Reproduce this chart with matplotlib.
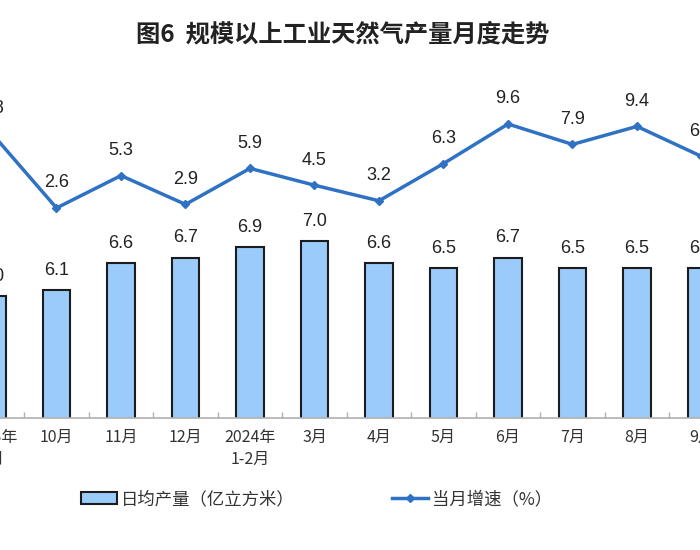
import matplotlib
matplotlib.use("Agg")
import matplotlib.pyplot as plt
from matplotlib.patches import Patch
from matplotlib.lines import Line2D

plt.rcParams['font.family'] = ['Noto Sans CJK SC', 'DejaVu Sans']

# Dados
meses = ["2023年\n9月", "10月", "11月", "12月", "2024年\n1-2月", "3月",
         "4月", "5月", "6月", "7月", "8月", "9月"]
producao_diaria = [6.0, 6.1, 6.6, 6.7, 6.9, 7.0, 6.6, 6.5, 6.7, 6.5, 6.5, 6.5]
crescimento = [8.8, 2.6, 5.3, 2.9, 5.9, 4.5, 3.2, 6.3, 9.6, 7.9, 9.4, 6.9]

cor_barra = '#9ACBFB'
cor_linha = '#2F72C4'

fig = plt.figure(figsize=(7, 5.5), dpi=100)
# eixo mais largo que a figura para cortar as pontas como no original
ax = fig.add_axes([-40.25 / 700, 132 / 550, 774 / 700, 348 / 550])
ax2 = ax.twinx()

x = list(range(len(meses)))

barras = ax.bar(x, producao_diaria, width=0.43, color=cor_barra,
                edgecolor='#1c1c1c', linewidth=1.5, zorder=2)
for xi, v in zip(x, producao_diaria):
    ax.annotate(f"{v:.1f}", (xi, v), xytext=(0, 8), textcoords='offset points',
                ha='center', va='bottom', fontsize=13, color='#222222',
                family=['Liberation Sans', 'DejaVu Sans'])

ax2.plot(x, crescimento, color=cor_linha, linewidth=2.5, marker='D',
         markersize=4.5, zorder=3)
for xi, v in zip(x, crescimento):
    ax2.annotate(f"{v:.1f}", (xi, v), xytext=(0, 12), textcoords='offset points',
                 ha='center', va='bottom', fontsize=13, color='#222222',
                 family=['Liberation Sans', 'DejaVu Sans'])

ax.set_xlim(-0.5, 11.5)
ax.set_ylim(3.75, 10.15)
ax2.set_ylim(-14.9, 14.1)

for a in (ax, ax2):
    for s in ['top', 'left', 'right']:
        a.spines[s].set_visible(False)
    a.set_yticks([])
ax2.spines['bottom'].set_visible(False)
ax.spines['bottom'].set_color('#b0b0b0')
ax.spines['bottom'].set_linewidth(1.2)

ax.set_xticks(x)
ax.set_xticklabels(meses, fontsize=11.5, color='#333333', linespacing=1.35)
ax.tick_params(axis='x', which='major', length=0, pad=8)
ax.set_xticks([i + 0.5 for i in x[:-1]], minor=True)
ax.tick_params(axis='x', which='minor', direction='in', length=4,
               color='#b0b0b0', width=1)

fig.suptitle("图6  规模以上工业天然气产量月度走势", x=0.49, y=0.96,
             fontsize=17.5, fontweight='bold', color='#222222')

handles = [Patch(facecolor=cor_barra, edgecolor='#1c1c1c', linewidth=1.5),
           Line2D([0], [0], color=cor_linha, linewidth=2.5, marker='D', markersize=4)]
fig.legend(handles, ["日均产量（亿立方米）", "当月增速（%）"], loc='center',
           bbox_to_anchor=(0.452, 0.092), ncol=2, frameon=False, fontsize=12.5,
           columnspacing=5.6, handlelength=2.1, handletextpad=0.2,
           labelcolor='#333333')

fig.savefig("out.png", dpi=100)
